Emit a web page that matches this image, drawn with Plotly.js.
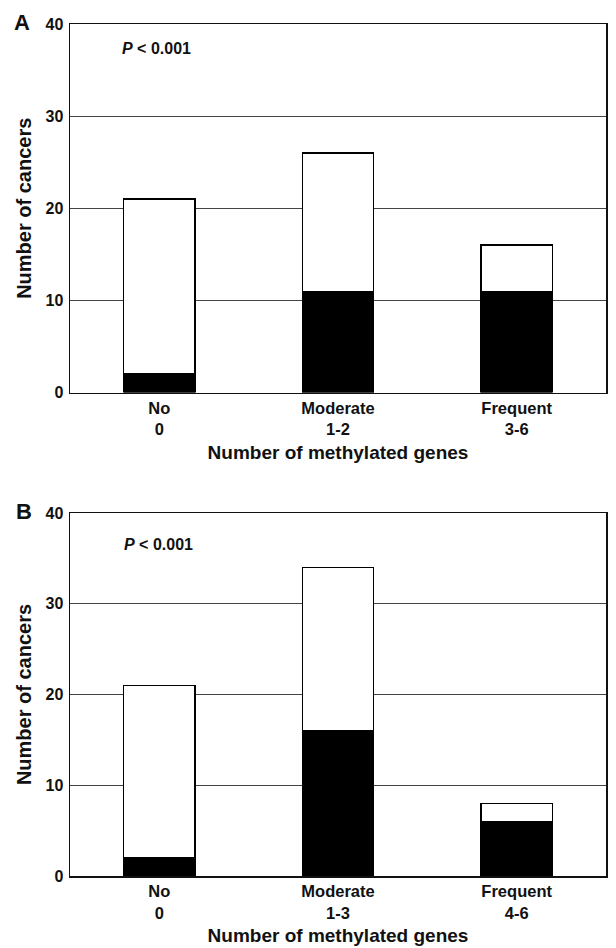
<!DOCTYPE html>
<html>
<head>
<meta charset="utf-8">
<script src="https://cdn.plot.ly/plotly-3.0.1.min.js"></script>
<style>html,body{margin:0;padding:0;background:#fff;}</style>
</head>
<body>
<div id="chart" style="width:616px;height:948px;"></div>
<script>
// Panel A
const catsA = ["No<br>0", "Moderate<br>1-2", "Frequent<br>3-6"];
const blackA = [2, 11, 11];
const totalA = [21, 26, 16];
// Panel B
const catsB = ["No<br>0", "Moderate<br>1-3", "Frequent<br>4-6"];
const blackB = [2, 16, 6];
const totalB = [21, 34, 8];
const yTicks = [0, 10, 20, 30, 40];

const whiteA = totalA.map((t, i) => t - blackA[i]);
const whiteB = totalB.map((t, i) => t - blackB[i]);

const W = 616, H = 948;
const px = v => v / W;
const py = v => 1 - v / H;

const barLine = {color: "#000", width: 1.3};
const traces = [
  {type: "bar", x: catsA, y: blackA, xaxis: "x", yaxis: "y", marker: {color: "#000", line: barLine}, width: 0.4, hoverinfo: "y"},
  {type: "bar", x: catsA, y: whiteA, xaxis: "x", yaxis: "y", marker: {color: "#fff", line: barLine}, width: 0.4, hoverinfo: "y"},
  {type: "bar", x: catsB, y: blackB, xaxis: "x2", yaxis: "y2", marker: {color: "#000", line: barLine}, width: 0.4, hoverinfo: "y"},
  {type: "bar", x: catsB, y: whiteB, xaxis: "x2", yaxis: "y2", marker: {color: "#fff", line: barLine}, width: 0.4, hoverinfo: "y"}
];

const fontFam = "Liberation Sans, Arial, Helvetica, sans-serif";
const xTickFont = {family: fontFam, size: 16.5, color: "#111", weight: "bold"};
const yTickFont = {family: fontFam, size: 16, color: "#111", weight: "bold"};
const titleFont = {family: fontFam, size: 19, color: "#111", weight: "bold"};

function xAxis(anchor) {
  return {
    anchor: anchor, domain: [px(70), px(606)],
    showline: true, mirror: true, linecolor: "#111", linewidth: 1.5,
    showgrid: false, ticks: "", tickfont: xTickFont,
    title: {text: "Number of methylated genes", font: titleFont, standoff: 8},
    fixedrange: true
  };
}
function yAxis(anchor, dom) {
  return {
    anchor: anchor, domain: dom, range: [0, 40],
    tickvals: yTicks, ticktext: yTicks.map(String),
    showline: true, mirror: true, linecolor: "#111", linewidth: 1.5,
    showgrid: true, gridcolor: "#444", gridwidth: 1.1, zeroline: false,
    ticks: "", tickfont: yTickFont, ticklabelstandoff: 2,
    title: {text: "Number of cancers", font: {family: fontFam, size: 20, color: "#111", weight: "bold"}, standoff: 8},
    fixedrange: true
  };
}

const layout = {
  width: W, height: H,
  margin: {l: 0, r: 0, t: 0, b: 0},
  paper_bgcolor: "#fff", plot_bgcolor: "#fff",
  barmode: "stack", showlegend: false,
  xaxis: xAxis("y"),
  yaxis: yAxis("x", [py(392.5), py(24)]),
  xaxis2: xAxis("y2"),
  yaxis2: yAxis("x2", [py(876), py(513)]),
  annotations: [
    {xref: "paper", yref: "paper", x: px(22), y: py(22), text: "A", showarrow: false,
     font: {family: fontFam, size: 22, color: "#111", weight: "bold"}, xanchor: "center", yanchor: "middle"},
    {xref: "paper", yref: "paper", x: px(24), y: py(511), text: "B", showarrow: false,
     font: {family: fontFam, size: 22, color: "#111", weight: "bold"}, xanchor: "center", yanchor: "middle"},
    {xref: "paper", yref: "paper", x: px(120), y: py(48), text: "<i>P</i> < 0.001", showarrow: false,
     font: {family: fontFam, size: 16, color: "#111", weight: "bold"}, xanchor: "left", yanchor: "middle"},
    {xref: "paper", yref: "paper", x: px(122), y: py(544), text: "<i>P</i> < 0.001", showarrow: false,
     font: {family: fontFam, size: 16, color: "#111", weight: "bold"}, xanchor: "left", yanchor: "middle"}
  ]
};

Plotly.newPlot("chart", traces, layout, {displayModeBar: false, staticPlot: true});
</script>
</body>
</html>
